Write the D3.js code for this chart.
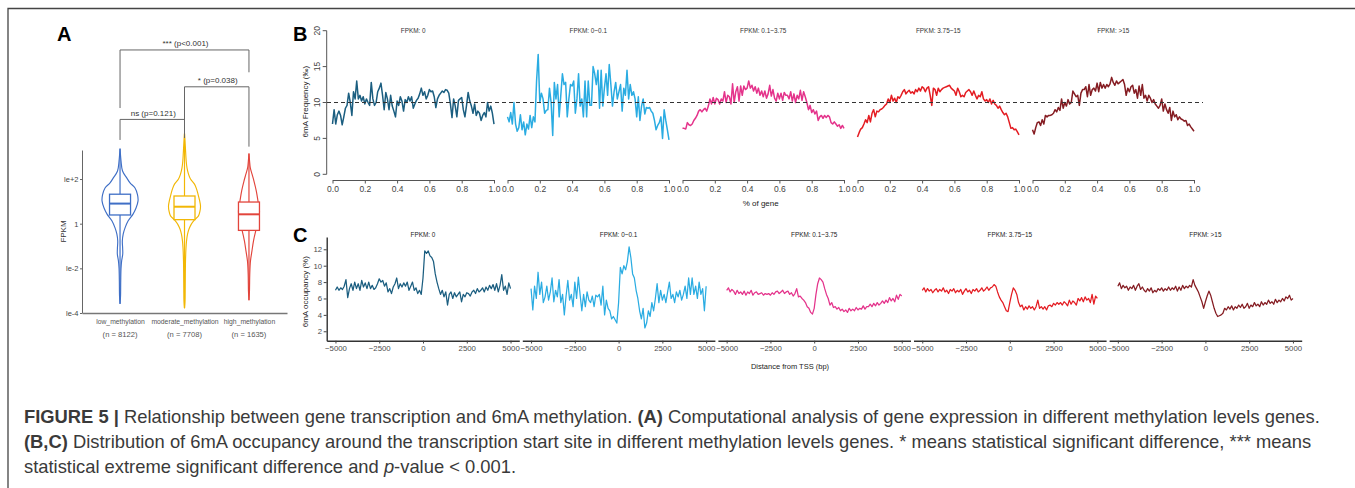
<!DOCTYPE html>
<html><head><meta charset="utf-8">
<script src="https://cdn.jsdelivr.net/npm/d3@7"></script>
<style>
body{margin:0;background:#fff}
svg{display:block}
text{font-family:"Liberation Sans",Arial,Helvetica,sans-serif}
</style></head>
<body><svg id="chart" width="1355" height="488"></svg>
<script>
// ---------------- Panel A data ----------------
const groups = ["low_methylation", "moderate_methylation", "high_methylation"];
const groupN = ["(n = 8122)", "(n = 7708)", "(n = 1635)"];
const groupColors = ["#3F6FC6", "#F2B705", "#E2453C"];
// violin density profiles: log10(FPKM) levels and relative density
const lowLog  = [3.36, 2.81, 2.36, 2.05, 1.83, 1.60, 1.29, 1.02, 0.70, 0.43, 0.12, -0.19, -0.46, -0.78, -1.09, -1.36, -1.67, -1.99, -2.57, -3.24, -3.59];
const lowDens = [0, 1.0, 2.5, 6.7, 10, 15, 17.5, 18, 16, 13, 8, 5, 3.2, 2.3, 2.6, 2.7, 1.6, 1.0, 0.7, 0.5, 0];
const modLog  = [4.04, 3.48, 2.81, 2.50, 2.22, 2.00, 1.77, 1.56, 1.32, 1.06, 0.79, 0.57, 0.35, 0.17, -0.03, -0.24, -0.48, -0.78, -1.08, -1.67, -2.87, -3.47, -3.79];
const modDens = [0, 0.8, 1.7, 2.5, 4, 6, 10, 12, 13.5, 15, 16, 15.5, 14, 10, 6.7, 4.5, 3, 2, 1.5, 1.0, 0.7, 0.5, 0];
const highLog  = [3.14, 2.81, 2.51, 2.23, 1.91, 1.47, 1.02, 0.57, 0.12, -0.33, -0.78, -1.22, -1.67, -2.26, -3.02, -3.43];
const highDens = [0, 0.6, 1.3, 3, 5, 7.3, 9, 10.5, 9.5, 6.7, 4.5, 3, 1.5, 0.8, 0.5, 0];
const boxQ1     = [0.39, 0.18, -0.30];
const boxMedian = [0.90, 0.76, 0.42];
const boxQ3     = [1.32, 1.24, 0.97];
const logTicks = [-4, -2, 0, 2];
const logTickLabels = ["le-4", "le-2", "1", "le+2"];
const sigLabels = ["ns (p=0.121)", "* (p=0.038)", "*** (p<0.001)"];
const sigPairs = [[0, 1], [1, 2], [0, 2]];
const sigLevel = [4.67, 6.13, 7.78];
const sigTipLeft = [3.75, 3.84, 5.18];
const sigTipRight = [3.84, 3.45, 6.78];

// ---------------- Panel B / C data ----------------
const fpkmBins = ["FPKM: 0", "FPKM: 0~0.1", "FPKM: 0.1~3.75", "FPKM: 3.75~15", "FPKM: >15"];
const binColors = ["#1B5E80", "#2AACE2", "#E4338B", "#E41C22", "#851C22"];
const geneTicks = [0, 0.2, 0.4, 0.6, 0.8, 1.0];
const freqTicks = [0, 5, 10, 15, 20];
const geneX = d3.range(101).map(i => i / 100);
const geneFreq0 = [7.0,9.0,7.0,8.3,8.8,8.2,6.9,8.0,9.2,9.6, 11.3,10.0,8.2,11.5,10.5,13.0,10.5,11.0,10.2,10.8, 9.8,10.5,10.0,9.6,12.8,10.5,9.6,10.0,11.5,12.0, 12.7,11.0,9.0,11.4,10.5,9.0,11.0,9.5,8.8,8.0, 10.2,9.6,10.8,10.2,8.8,10.4,10.0,10.8,10.2,10.8, 9.2,9.8,10.3,10.6,11.2,12.0,11.0,11.5,10.5,11.0, 11.8,11.5,11.6,10.8,9.3,10.5,11.0,11.3,11.6,11.4, 11.8,11.7,11.3,9.8,7.9,10.5,9.5,8.0,10.3,10.5, 10.7,9.0,8.0,9.6,11.4,10.2,9.5,8.5,9.8,8.2, 8.8,8.5,7.5,8.2,8.6,8.0,10.0,8.8,9.5,8.5, 7.0];
const geneFreq1 = [8.0,7.3,8.6,7.0,10.0,7.0,6.0,6.5,8.3,6.2, 7.3,5.5,7.0,6.3,8.2,6.5,8.0,7.3,13.0,16.7, 10.0,11.3,10.5,8.5,8.9,9.0,12.0,10.0,5.4,12.8, 10.5,12.5,8.0,11.0,14.0,12.5,12.8,8.0,10.5,12.5, 12.3,13.0,8.5,10.5,14.0,9.5,10.5,8.0,13.0,8.0, 13.0,9.6,9.6,15.0,14.0,12.5,14.5,9.2,14.5,9.5, 12.0,14.0,11.0,15.3,12.5,9.5,11.5,12.8,10.5,11.5, 12.5,8.8,12.0,11.0,14.5,10.5,12.5,11.0,11.5,10.5, 8.0,10.8,7.5,9.5,10.5,8.4,9.3,9.2,9.3,8.8, 8.5,7.5,6.2,6.8,7.2,8.0,5.0,9.0,7.5,6.2, 4.8];
const geneFreq2 = [6.4,6.4,6.3,7.2,6.9,6.8,7.0,7.5,7.8,8.2, 8.8,9.0,8.7,9.0,9.2,8.8,9.5,10.5,9.8,10.7, 9.8,10.6,10.4,9.8,10.5,10.2,11.5,10.0,11.0,10.8, 9.8,12.6,10.0,11.5,12.2,10.2,12.3,11.0,12.3,11.8, 12.0,13.0,12.0,12.4,11.6,12.2,11.3,12.0,11.0,11.6, 10.8,11.6,10.6,11.2,12.4,10.9,11.8,10.6,10.2,11.3, 10.5,11.3,10.3,11.4,11.0,11.0,10.5,11.5,10.2,11.2, 10.0,11.0,10.5,11.7,10.3,11.5,10.8,10.0,9.0,9.6, 8.6,9.0,8.4,8.8,7.5,8.0,8.2,7.8,8.2,7.9, 8.2,8.0,7.2,7.0,7.3,7.0,6.7,6.9,6.4,6.8, 6.4];
const geneFreq3 = [5.2,5.8,6.3,6.5,7.0,7.6,7.2,8.2,7.3,8.5, 9.0,8.0,8.8,8.7,9.0,9.1,9.3,9.6,9.8,10.5, 10.0,11.0,10.2,10.6,10.0,10.8,10.6,11.0,11.5,11.8, 11.2,11.5,11.7,11.3,11.5,11.2,11.8,11.5,12.0,11.6, 12.2,12.0,11.5,12.0,12.2,11.0,9.6,12.0,11.8,11.0, 12.0,11.5,11.8,12.0,12.1,12.2,12.3,12.4,12.0,11.8, 11.6,11.0,12.0,11.5,10.8,11.0,10.8,11.4,11.6,11.8, 11.5,11.0,11.6,11.0,10.5,11.0,10.8,11.5,10.5,10.2, 10.4,10.0,10.5,9.8,10.3,9.8,9.6,9.2,9.5,9.0, 8.6,8.3,8.5,8.0,7.2,6.4,6.5,6.2,6.3,5.9, 5.5];
const geneFreq4 = [6.2,5.6,6.5,7.2,7.3,6.8,7.6,7.0,8.2,8.0, 8.2,8.2,8.3,8.5,9.0,8.7,9.3,8.9,10.5,9.2, 10.0,9.5,10.4,9.8,10.0,11.6,11.2,10.8,11.0,9.6, 11.3,11.8,11.8,12.2,10.8,12.5,11.0,11.8,12.0,11.6, 12.7,11.5,12.8,12.0,12.5,12.0,12.5,12.2,12.6,13.5, 12.8,12.4,13.0,12.6,12.8,13.0,13.2,12.5,11.0,12.0, 11.5,12.2,12.4,11.3,11.8,10.6,12.3,11.0,12.5,10.6, 11.0,10.2,11.0,10.6,10.0,10.4,9.8,9.5,9.2,9.6, 10.5,8.8,9.8,9.0,8.5,9.3,7.5,8.8,8.0,8.3, 7.6,8.0,7.7,7.6,7.4,7.5,6.8,7.0,6.6,6.3, 6.0];
const geneFreq = [geneFreq0, geneFreq1, geneFreq2, geneFreq3, geneFreq4];

const tssTicks = [-5000, -2500, 0, 2500, 5000];
const occTicks = [2, 4, 6, 8, 10, 12];
const tssX = d3.range(-5000, 5001, 100);
const tssOcc0 = [7.0,7.4,7.0,7.3,7.1,7.5,8.3,6.1,7.2,7.8, 7.0,8.0,7.2,7.8,7.0,8.2,7.4,7.9,7.2,8.0, 7.2,7.6,7.1,7.3,7.8,8.4,8.0,8.2,7.5,7.9, 6.8,7.2,6.6,7.4,7.8,8.5,7.2,7.8,7.4,7.9, 7.5,8.0,7.0,7.5,8.0,7.0,7.3,6.6,7.0,6.5, 8.5, 11.8,11.5,11.8,11.2,11.0,10.5,9.0,8.0,7.2,6.5, 7.0,6.2,6.8,5.2,6.5,6.8,6.0,6.7,6.2,6.5, 6.8,5.6,6.5,6.2,6.7,6.6,6.3,6.8,7.0,6.6, 7.2,6.8,7.0,7.3,6.8,7.4,7.0,7.6,7.2,7.7, 7.0,7.8,6.8,7.6,8.9,7.0,7.5,6.5,7.9,7.2];
const tssOcc1 = [7.2,4.6,7.5,6.0,9.2,6.5,8.0,5.5,6.2,7.5, 5.8,6.8,8.5,5.6,7.0,6.2,8.3,5.5,6.5,4.0, 6.3,8.2,5.8,6.5,5.0,8.0,6.0,8.6,6.5,4.5, 6.5,5.0,6.8,5.8,5.5,6.3,5.0,6.4,6.2,6.5, 5.2,7.5,4.0,5.8,4.8,4.5,3.5,3.8,3.4,3.0, 5.5, 9.8,9.0,10.0,9.5,10.5,12.3,11.0,9.0,8.5,7.0, 6.0,4.5,3.5,4.8,2.4,3.0,4.5,3.8,5.5,4.5, 6.0,7.8,5.5,7.0,5.8,6.5,5.5,6.8,8.0,6.0, 6.5,5.5,6.8,6.2,7.0,5.8,6.5,7.5,6.0,8.5, 6.5,8.5,6.5,7.5,6.0,8.0,6.5,7.2,4.5,7.5];
const tssOcc2 = [7.0,7.3,6.8,7.1,6.9,6.5,7.0,6.6,6.8,6.5, 6.9,6.4,6.8,6.6,7.0,6.4,6.7,6.8,6.5,6.6, 6.7,6.4,6.6,6.5,6.6,6.4,6.7,6.5,6.8,6.9, 6.6,6.8,7.0,6.6,6.8,6.9,6.5,6.7,6.3,6.6, 7.2,6.2,6.3,6.0,5.8,5.5,5.0,4.8,4.3,4.1, 4.8, 6.5,7.8,8.5,8.3,8.0,7.2,6.5,6.0,5.2,5.5, 4.9,5.0,4.7,4.9,4.5,4.7,4.4,4.6,4.3,4.8, 4.5,4.7,4.5,4.9,4.6,4.8,4.7,5.1,4.7,5.0, 5.0,5.3,5.0,5.4,5.1,5.5,5.2,5.4,5.7,5.4, 5.8,5.5,6.1,5.7,6.0,5.6,6.4,5.9,6.5,6.3];
const tssOcc3 = [7.0,7.3,6.8,7.2,6.9,7.1,6.7,7.0,7.2,6.8, 7.1,6.9,7.3,6.8,7.0,6.6,7.1,6.9,7.2,6.7, 7.0,6.8,7.1,6.5,6.9,7.2,6.8,7.0,6.6,7.1, 6.9,7.2,6.8,7.0,7.3,6.9,7.1,7.4,7.0,7.3, 7.4,7.7,7.5,6.8,6.2,5.8,5.5,5.0,4.5,4.4, 5.5, 6.5,7.3,7.0,6.5,5.5,5.0,5.2,4.6,5.0,4.7, 5.1,4.8,5.0,4.6,5.0,5.8,4.8,5.0,4.7,5.0, 4.6,5.1,5.2,5.0,5.4,5.2,5.5,5.3,5.5,5.2, 5.6,5.4,5.1,5.8,5.3,5.7,5.5,5.2,6.0,5.7, 6.1,5.6,6.2,5.8,6.0,5.5,6.5,5.3,6.3,6.0];
const tssOcc4 = [7.5,7.9,7.2,7.6,7.3,7.5,7.0,7.4,7.2,7.6, 7.0,7.5,7.8,7.1,7.4,7.0,6.8,7.2,6.9,7.3, 6.7,7.0,6.8,7.2,7.0,7.3,6.9,7.2,7.0,7.4, 7.0,7.3,7.1,7.5,6.9,7.4,7.0,7.6,7.2,7.5, 7.3,7.6,7.4,8.3,7.6,7.2,6.8,6.2,5.6,4.8, 5.6, 6.3,6.9,6.4,5.6,4.8,4.2,3.8,3.9,4.0,4.2, 4.8,4.6,5.0,4.7,5.1,4.6,5.0,4.8,5.2,4.9, 5.3,4.8,5.0,5.4,4.8,5.2,5.0,5.5,5.1,5.3, 5.0,5.6,5.2,5.5,5.3,5.8,5.4,5.6,5.3,5.9, 5.5,5.8,5.6,6.0,5.7,6.2,6.0,6.4,5.8,6.0];
const tssOcc = [tssOcc0, tssOcc1, tssOcc2, tssOcc3, tssOcc4];

// ---------------- drawing ----------------
const svg = d3.select("#chart");
const FONT = '"Liberation Sans",Arial,Helvetica,sans-serif';

// frame
svg.append("path").attr("d", "M8,488 V8.5 H1355").attr("fill", "none").attr("stroke", "#444").attr("stroke-width", 1.3);

// panel letters
[["A", 57, 41], ["B", 293, 41], ["C", 293, 242]].forEach(([t, x, y]) =>
  svg.append("text").attr("x", x).attr("y", y).attr("font-size", 20).attr("font-weight", "bold").attr("fill", "#000").text(t));

// ===== Panel A =====
const gA = svg.append("g");
const xA = d3.scalePoint().domain(groups).range([82, 287]).padding(0.59);
const yA = d3.scaleLinear().domain([-4, 3.3]).range([313, 150]);
const wA = d3.scaleLinear().domain([0, 18]).range([0, 18]);

const yAxisA = d3.axisLeft(yA).tickValues(logTicks).tickFormat((d, i) => logTickLabels[i]).tickSize(2).tickPadding(1.5).tickSizeOuter(0);
const gya = gA.append("g").attr("transform", "translate(82,0)").call(yAxisA);
gya.select(".domain").attr("stroke", "#666").attr("stroke-width", 1);
gya.selectAll(".tick line").attr("stroke", "#666");
gya.selectAll("text").attr("font-size", 7.5).attr("fill", "#444").attr("font-family", FONT);

const xAxisA = d3.axisBottom(xA).tickSize(0).tickPadding(6.5).tickFormat(d => d);
const gxa = gA.append("g").attr("transform", "translate(0,313)").call(xAxisA);
gxa.select(".domain").attr("stroke", "#777").attr("stroke-width", 1.3);
gxa.selectAll("text").attr("font-size", 6.8).attr("fill", "#555").attr("font-family", FONT);
gA.selectAll("text.nlab").data(groupN).join("text").attr("class", "nlab")
  .attr("x", (d, i) => xA(groups[i])).attr("y", 336.5).attr("text-anchor", "middle")
  .attr("font-size", 7.6).attr("fill", "#555").text(d => d);

gA.append("text").attr("transform", "translate(66,231.5) rotate(-90)").attr("text-anchor", "middle")
  .attr("font-size", 8).attr("fill", "#333").text("FPKM");

const violins = [[lowLog, lowDens], [modLog, modDens], [highLog, highDens]];
violins.forEach(([lg, dn], i) => {
  const cx = xA(groups[i]);
  const col = groupColors[i];
  const pts = lg.map((l, j) => ({ l, d: dn[j] }));
  const area = d3.area().y(p => yA(p.l)).x0(p => cx - wA(p.d)).x1(p => cx + wA(p.d)).curve(d3.curveCatmullRom);
  gA.append("path").attr("d", area(pts)).attr("fill", "none").attr("stroke", col).attr("stroke-width", 1.15);
  const top = d3.max(lg), bot = d3.min(lg);
  gA.append("line").attr("x1", cx).attr("x2", cx).attr("y1", yA(top)).attr("y2", yA(boxQ3[i])).attr("stroke", col).attr("stroke-width", 1.2);
  gA.append("line").attr("x1", cx).attr("x2", cx).attr("y1", yA(boxQ1[i])).attr("y2", yA(bot)).attr("stroke", col).attr("stroke-width", 1.2);
  gA.append("rect").attr("x", cx - 10.5).attr("width", 21).attr("y", yA(boxQ3[i])).attr("height", yA(boxQ1[i]) - yA(boxQ3[i]))
    .attr("fill", "#fff").attr("stroke", col).attr("stroke-width", 1.3);
  gA.append("line").attr("x1", cx - 10.5).attr("x2", cx + 10.5).attr("y1", yA(boxMedian[i])).attr("y2", yA(boxMedian[i])).attr("stroke", col).attr("stroke-width", 2);
});

sigPairs.forEach(([a, b], i) => {
  const xa = xA(groups[a]), xb = xA(groups[b]);
  const ys = yA(sigLevel[i]);
  gA.append("path").attr("d", `M${xa},${yA(sigTipLeft[i])} V${ys} H${xb} V${yA(sigTipRight[i])}`)
    .attr("fill", "none").attr("stroke", "#666").attr("stroke-width", 1);
  gA.append("text").attr("x", (xa + xb) / 2 + 1).attr("y", ys - 3.5).attr("text-anchor", "middle")
    .attr("font-size", 8).attr("fill", "#333").text(sigLabels[i]);
});

// ===== Panel B =====
const gB = svg.append("g");
const yB = d3.scaleLinear().domain([0, 20]).range([174.3, 30.7]);
gB.append("line").attr("x1", 326.7).attr("x2", 326.7).attr("y1", yB(0)).attr("y2", yB(20)).attr("stroke", "#555");
gB.selectAll("line.yt").data(freqTicks).join("line").attr("class", "yt")
  .attr("x1", 322.7).attr("x2", 326.7).attr("y1", d => yB(d)).attr("y2", d => yB(d)).attr("stroke", "#555");
gB.selectAll("text.yl").data(freqTicks).join("text").attr("class", "yl")
  .attr("transform", d => `translate(319.7,${yB(d)}) rotate(-90)`).attr("text-anchor", "middle")
  .attr("font-size", 8.5).attr("fill", "#444").text(d => d);
gB.append("text").attr("transform", "translate(308,101.7) rotate(-90)").attr("text-anchor", "middle")
  .attr("font-size", 8).attr("fill", "#222").text("6mA Frequency (‰)");

fpkmBins.forEach((title, i) => {
  const s = 332.5 + i * 175;
  const xB = d3.scaleLinear().domain([0, 1]).range([s, s + 161.5]);
  const ax = d3.axisBottom(xB).tickValues(geneTicks).tickSize(3.5).tickPadding(2).tickSizeOuter(0).tickFormat(d3.format(".1f"));
  const g = gB.append("g").attr("transform", "translate(0,180)").call(ax);
  g.select(".domain").attr("stroke", "#555");
  g.selectAll(".tick line").attr("stroke", "#555");
  g.selectAll("text").attr("font-size", 8.5).attr("fill", "#444").attr("font-family", FONT);
  gB.append("text").attr("x", s + 80.75).attr("y", 33.3).attr("text-anchor", "middle").attr("font-size", 6.4).attr("fill", "#333").text(title);
  const line = d3.line().x((d, j) => xB(geneX[j])).y(d => yB(d));
  gB.append("path").attr("d", line(geneFreq[i])).attr("fill", "none").attr("stroke", binColors[i]).attr("stroke-width", 1.5).attr("stroke-linejoin", "round");
});
gB.append("line").attr("x1", 327).attr("x2", 1203).attr("y1", yB(10)).attr("y2", yB(10))
  .attr("stroke", "#333").attr("stroke-width", 1).attr("stroke-dasharray", "4,3");
gB.append("text").attr("x", 760.7).attr("y", 206).attr("text-anchor", "middle").attr("font-size", 8).attr("fill", "#222").text("% of gene");

// ===== Panel C =====
const gC = svg.append("g");
const yC = d3.scaleLinear().domain([0.85, 13.5]).range([340.7, 237]);
const yAxisC = d3.axisLeft(yC).tickValues(occTicks).tickSize(3).tickPadding(1.5).tickSizeOuter(0);
const gyc = gC.append("g").attr("transform", "translate(326.7,0)").call(yAxisC);
gyc.select(".domain").attr("stroke", "#222").attr("stroke-width", 1.3);
gyc.selectAll(".tick line").attr("stroke", "#444");
gyc.selectAll("text").attr("font-size", 7.8).attr("fill", "#4d4d4d").attr("font-family", FONT);
gC.append("text").attr("transform", "translate(308,291.7) rotate(-90)").attr("text-anchor", "middle")
  .attr("font-size", 8).attr("fill", "#222").text("6mA occupancy (%)");

fpkmBins.forEach((title, i) => {
  const left = 326.7 + i * 195.6;
  const xC = d3.scaleLinear().domain([-5500, 5500]).range([left, left + 192.6]);
  const ax = d3.axisBottom(xC).tickValues(tssTicks).tickSize(2.8).tickPadding(1.5).tickSizeOuter(0).tickFormat(d3.format("d"));
  const g = gC.append("g").attr("transform", "translate(0,340.7)").call(ax);
  g.select(".domain").attr("stroke", "#333").attr("stroke-width", 1.6);
  g.selectAll(".tick line").attr("stroke", "#444");
  g.selectAll("text").attr("font-size", 7.8).attr("fill", "#4d4d4d").attr("font-family", FONT);
  gC.append("text").attr("x", xC(0)).attr("y", 237.3).attr("text-anchor", "middle").attr("font-size", 6.4).attr("fill", "#1a1a1a").text(title);
  const line = d3.line().x((d, j) => xC(tssX[j])).y(d => yC(d));
  gC.append("path").attr("d", line(tssOcc[i])).attr("fill", "none").attr("stroke", binColors[i]).attr("stroke-width", 1.25).attr("stroke-linejoin", "round");
});
gC.append("text").attr("x", 790).attr("y", 368.5).attr("text-anchor", "middle").attr("font-size", 7.5).attr("fill", "#222").text("Distance from TSS (bp)");

// ===== Caption =====
const cap = svg.append("g").attr("fill", "#3a3a3a").attr("font-size", 16);
const l1 = cap.append("text").attr("x", 24).attr("y", 423);
l1.append("tspan").attr("font-weight", "bold").text("FIGURE 5 |");
l1.append("tspan").text(" Relationship between gene transcription and 6mA methylation. ");
l1.append("tspan").attr("font-weight", "bold").text("(A)");
l1.append("tspan").text(" Computational analysis of gene expression in different methylation levels genes.");
const l2 = cap.append("text").attr("x", 24).attr("y", 448);
l2.append("tspan").attr("font-weight", "bold").text("(B,C)");
l2.append("tspan").text(" Distribution of 6mA occupancy around the transcription start site in different methylation levels genes. * means statistical significant difference, *** means");
const l3 = cap.append("text").attr("x", 24).attr("y", 473);
l3.append("tspan").text("statistical extreme significant difference and ");
l3.append("tspan").attr("font-style", "italic").text("p");
l3.append("tspan").text("-value < 0.001.");
const w1 = l1.node().getComputedTextLength();
if (w1 > 0) cap.attr("font-size", 16 * 1297 / w1);
</script>
</body></html>
